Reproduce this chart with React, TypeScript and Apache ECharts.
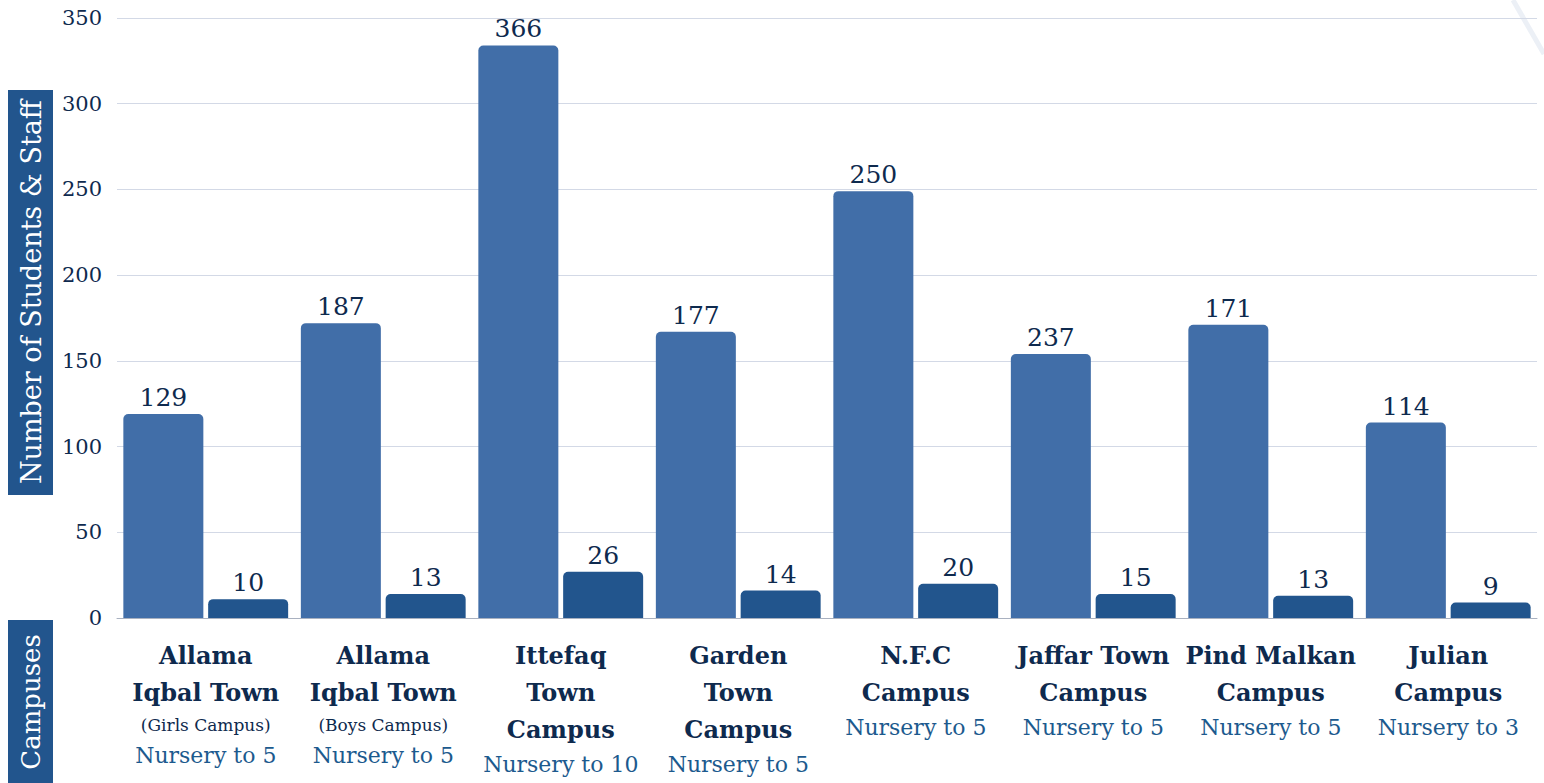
import React, { useEffect, useRef } from "react";
import * as echarts from "echarts";

const campusNames = [
  "Allama\nIqbal Town",
  "Allama\nIqbal Town",
  "Ittefaq\nTown\nCampus",
  "Garden\nTown\nCampus",
  "N.F.C\nCampus",
  "Jaffar Town\nCampus",
  "Pind Malkan\nCampus",
  "Julian\nCampus",
];
const campusNotes = ["(Girls Campus)", "(Boys Campus)", "", "", "", "", "", ""];
const campusGrades = [
  "Nursery to 5",
  "Nursery to 5",
  "Nursery to 10",
  "Nursery to 5",
  "Nursery to 5",
  "Nursery to 5",
  "Nursery to 5",
  "Nursery to 3",
];
// bar heights as drawn in the picture
const studentBars = [119, 172, 334, 167, 249, 154, 171, 114];
const staffBars = [11, 14, 27, 16, 20, 14, 13, 9];
// values printed above the bars
const studentLabels = [129, 187, 366, 177, 250, 237, 171, 114];
const staffLabels = [10, 13, 26, 14, 20, 15, 13, 9];
const yTicks = { min: 0, max: 350, interval: 50 };

const FONT = "DejaVu Serif";
const DARK = "#0e2a4e";

export default function App() {
  const ref = useRef<HTMLDivElement>(null);
  useEffect(() => {
    if (!ref.current) return;
    const chart = echarts.init(ref.current, null, { renderer: "svg" });
    const categories = campusNames.map((n, i) => `${i}`);
    chart.setOption({
      animation: false,
      backgroundColor: "#ffffff",
      textStyle: { fontFamily: FONT },
      grid: { left: 117, right: 7, top: 18, bottom: 165, containLabel: false },
      xAxis: {
        type: "category",
        data: categories,
        axisLine: { show: true, lineStyle: { color: "#a9b1c0", width: 1 } },
        axisTick: { show: false },
        axisLabel: {
          interval: 0,
          hideOverlap: false,
          margin: 19,
          formatter: (_v: string, idx: number) => {
            const lines = campusNames[idx].split("\n").map((l) => `{b|${l}}`);
            if (campusNotes[idx]) lines.push(`{s|${campusNotes[idx]}}`);
            lines.push(`{g|${campusGrades[idx]}}`);
            return lines.join("\n");
          },
          rich: {
            b: { fontFamily: FONT, fontWeight: "bold", fontSize: 24, color: DARK, lineHeight: 37, align: "center" },
            s: { fontFamily: FONT, fontSize: 17, color: DARK, lineHeight: 28, align: "center" },
            g: { fontFamily: FONT, fontSize: 22, color: "#1c5a8e", lineHeight: 33, align: "center" },
          },
        },
      },
      yAxis: {
        type: "value",
        min: yTicks.min,
        max: yTicks.max,
        interval: yTicks.interval,
        axisLine: { show: false },
        axisTick: { show: false },
        axisLabel: { fontFamily: FONT, fontSize: 21, color: DARK, margin: 15 },
        splitLine: { lineStyle: { color: "#d3d9e6", width: 1 } },
      },
      series: [
        {
          type: "bar",
          name: "Students",
          data: studentBars,
          barWidth: 80,
          barGap: "6%",
          itemStyle: { color: "#416ea8", borderRadius: [5, 5, 0, 0] },
          label: {
            show: true,
            position: "top",
            distance: 4,
            fontFamily: FONT,
            fontSize: 25,
            color: DARK,
            formatter: (p: any) => `${studentLabels[p.dataIndex]}`,
          },
        },
        {
          type: "bar",
          name: "Staff",
          data: staffBars,
          barWidth: 80,
          barGap: "6%",
          itemStyle: { color: "#22558d", borderRadius: [5, 5, 0, 0] },
          label: {
            show: true,
            position: "top",
            distance: 4,
            fontFamily: FONT,
            fontSize: 25,
            color: DARK,
            formatter: (p: any) => `${staffLabels[p.dataIndex]}`,
          },
        },
      ],
      graphic: [
        {
          type: "line",
          shape: { x1: 1513, y1: 0, x2: 1544, y2: 54 },
          style: { stroke: "#ecf0f6", lineWidth: 5 },
          silent: true,
        },
        {
          type: "rect",
          shape: { x: 8, y: 90, width: 45, height: 405 },
          style: { fill: "#22558d" },
        },
        {
          type: "text",
          x: 31,
          y: 292,
          rotation: Math.PI / 2,
          style: {
            text: "Number of Students & Staff",
            fontFamily: FONT,
            fontSize: 27,
            fill: "#ffffff",
            align: "center",
            verticalAlign: "middle",
          },
        },
        {
          type: "rect",
          shape: { x: 8, y: 620, width: 45, height: 163 },
          style: { fill: "#22558d" },
        },
        {
          type: "text",
          x: 31,
          y: 702,
          rotation: Math.PI / 2,
          style: {
            text: "Campuses",
            fontFamily: FONT,
            fontSize: 26,
            fill: "#ffffff",
            align: "center",
            verticalAlign: "middle",
          },
        },
      ],
    });
    return () => chart.dispose();
  }, []);
  return (
    <div
      ref={ref}
      style={{ position: "fixed", left: 0, top: 0, width: 1544, height: 783 }}
    />
  );
}
